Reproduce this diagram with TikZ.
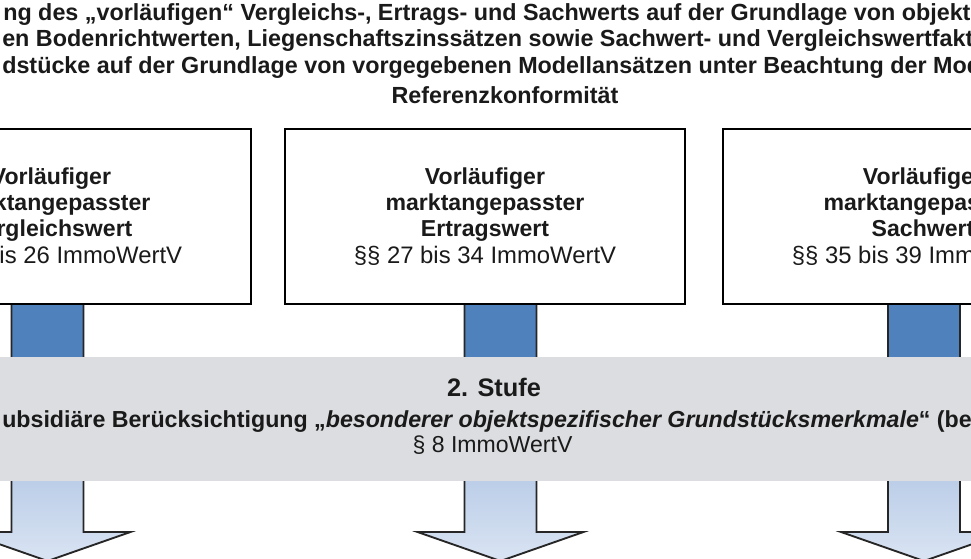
\documentclass[tikz,border=0pt]{standalone}
\usepackage{fontspec}
\setmainfont{Liberation Sans}
\definecolor{upblue}{HTML}{4F81BD}
\definecolor{lowtop}{HTML}{BCCEE8}
\definecolor{lowbot}{HTML}{DAE4F3}
\definecolor{bandgrey}{HTML}{DCDDE0}
\definecolor{txt}{HTML}{1A1A1A}
\tikzset{
  ttl/.style={inner sep=0pt, font=\fontsize{17.5}{20}\selectfont\bfseries, text=txt},
  vbox/.style={draw=black, line width=1.9pt, fill=white, minimum width=300pt, minimum height=131pt,
    align=center, inner sep=0pt, font=\fontsize{17.3}{19.6}\selectfont, text=txt},
  bandbox/.style={fill=bandgrey, inner sep=0pt, minimum width=740pt, minimum height=93pt},
  bandtxt/.style={inner sep=0pt, font=\fontsize{17.3}{20}\selectfont, text=txt},
  stemside/.style={draw=black!85, line width=1.4pt, line join=miter},
}
\newcommand{\regl}[1]{{\fontsize{17.9}{19.6}\selectfont #1}}
\begin{document}
\begin{tikzpicture}[x=0.75pt, y=-0.75pt]
\useasboundingbox (0,0) rectangle (971,559);
\clip (0,0) rectangle (971,559);
\fill[white] (0,0) rectangle (971,559);

% title
\node[ttl, anchor=base west] (t1) at (3,21) {ng des „vorläufigen“ Vergleichs-, Ertrags- und Sachwerts auf der Grundlage von objekt\rlap{spezifisch}};
\node[ttl, anchor=base west] (t2) at (2,47) {en Bodenrichtwerten, Liegenschaftszinssätzen sowie Sachwert- und Vergleichswertfakt\rlap{oren}};
\node[ttl, anchor=base west] (t3) at (2,74) {dstücke auf der Grundlage von vorgegebenen Modellansätzen unter Beachtung der Mod\rlap{ellkonformität}};
\node[ttl, anchor=base] (t4) at (505,104) {Referenzkonformität};

% arrows
\foreach \cx in {47.5, 500.5, 924} {
  \fill[upblue] (\cx-36,300) rectangle (\cx+36,482);
  \shade[top color=lowtop, bottom color=lowbot]
    (\cx-36,481) -- (\cx-36,532) -- (\cx-83,532) -- (\cx,561) -- (\cx+83,532) -- (\cx+36,532) -- (\cx+36,481) -- cycle;
  \draw[stemside] (\cx-36,300) -- (\cx-36,532) -- (\cx-83,532) -- (\cx,561) -- (\cx+83,532) -- (\cx+36,532) -- (\cx+36,300);
}

% boxes
\node[vbox] (b1) at (51,216.5) {\textbf{Vorläufiger}\\\textbf{marktangepasster}\\\textbf{Vergleichswert}\\\regl{§§ 24 bis 26 ImmoWertV}};
\node[vbox] (b2) at (485,216.5) {\textbf{Vorläufiger}\\\textbf{marktangepasster}\\\textbf{Ertragswert}\\\regl{§§ 27 bis 34 ImmoWertV}};
\node[vbox] (b3) at (923,216.5) {\textbf{Vorläufiger}\\\textbf{marktangepasster}\\\textbf{Sachwert}\\\regl{§§ 35 bis 39 ImmoWertV}};

% band
\node[bandbox] (band) at (485.5,419) {};
\node[bandtxt, anchor=base, font=\fontsize{19}{20}\selectfont\bfseries] (s1) at (494,397) {2. Stufe};
\node[bandtxt, anchor=base west, font=\fontsize{17.4}{20}\selectfont\bfseries] (s2) at (2,428) {ubsidiäre Berücksichtigung „\textit{besonderer objektspezifischer Grundstücksmerkmale}“ (be\rlap{i}};
\node[bandtxt, anchor=base] (s3) at (492.5,453) {§ 8 ImmoWertV};
\end{tikzpicture}
\end{document}
